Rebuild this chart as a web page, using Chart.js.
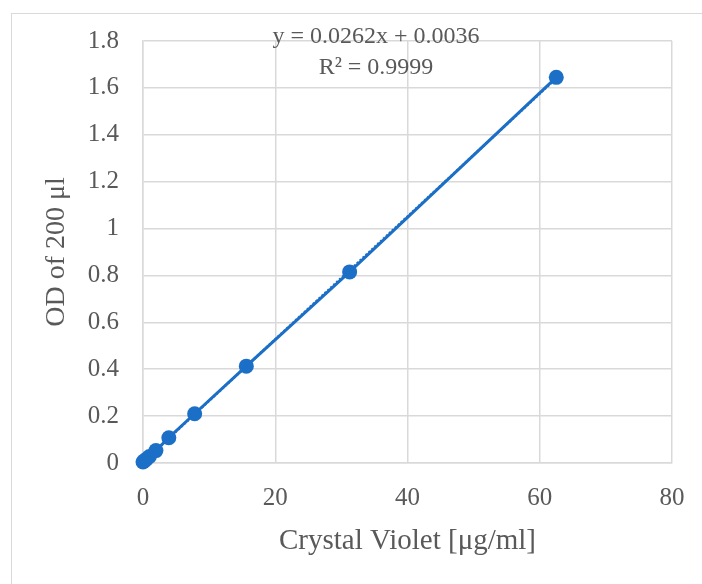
<!DOCTYPE html>
<html>
<head>
<meta charset="utf-8">
<script src="https://cdn.jsdelivr.net/npm/chart.js@4/dist/chart.umd.min.js"></script>
<style>
html,body{margin:0;padding:0;background:#fff;}
#wrap{width:702px;height:584px;position:relative;}
</style>
</head>
<body>
<div id="wrap"><canvas id="c" width="702" height="584"></canvas></div>
<script>
const concentrations = [0, 0.244, 0.488, 0.977, 1.953, 3.906, 7.8125, 15.625, 31.25, 62.5];
const odValues = [0.004, 0.010, 0.016, 0.028, 0.053, 0.108, 0.210, 0.413, 0.815, 1.645];
const trendX = [0, 62.5];
const trendY = [0.0036, 1.641];
const yTickLabels = ['0', '0.2', '0.4', '0.6', '0.8', '1', '1.2', '1.4', '1.6', '1.8'];
const xTickLabels = ['0', '20', '40', '60', '80'];
const equationLines = ['y = 0.0262x + 0.0036', 'R² = 0.9999'];
const xTitle = 'Crystal Violet [μg/ml]';
const yTitle = 'OD of 200 μl';

const BLUE = '#1b6fc6';
const GRID = '#d9d9d9';
const TEXT = '#595959';
const FONT = "'Liberation Serif', 'Times New Roman', serif";

const bgPlugin = {
  id: 'bg',
  beforeDraw(chart) {
    const ctx = chart.ctx;
    ctx.save();
    ctx.fillStyle = '#fff';
    ctx.fillRect(0, 0, chart.width, chart.height);
    ctx.strokeStyle = GRID;
    ctx.lineWidth = 1;
    ctx.strokeRect(11.5, 13.5, chart.width, chart.height);
    ctx.restore();
  },
  afterDraw(chart) {
    const ctx = chart.ctx;
    ctx.save();
    ctx.fillStyle = TEXT;
    ctx.font = "24px " + FONT;
    ctx.textAlign = 'center';
    ctx.textBaseline = 'middle';
    ctx.fillText(equationLines[0], 376, 37);
    ctx.fillText(equationLines[1], 376, 68);
    ctx.restore();
  }
};

new Chart(document.getElementById('c'), {
  type: 'scatter',
  data: {
    datasets: [
      {
        label: 'trend',
        data: trendX.map((x, i) => ({x: x, y: trendY[i]})),
        showLine: true,
        borderColor: BLUE,
        borderWidth: 2.5,
        borderDash: [2, 2],
        pointRadius: 0,
        fill: false,
        clip: false
      },
      {
        label: 'OD',
        data: concentrations.map((x, i) => ({x: x, y: odValues[i]})),
        showLine: true,
        borderColor: BLUE,
        backgroundColor: BLUE,
        borderWidth: 3,
        pointRadius: 7.5,
        pointBackgroundColor: BLUE,
        pointBorderColor: BLUE,
        pointBorderWidth: 0,
        fill: false,
        clip: false
      }
    ]
  },
  options: {
    responsive: false,
    animation: false,
    layout: {padding: {top: 41, right: 30, left: 0, bottom: 0}},
    plugins: {legend: {display: false}, tooltip: {enabled: false}},
    scales: {
      x: {
        type: 'linear',
        min: 0, max: 80,
        afterFit(s) { s.height = 121; s.paddingRight = 0; s.paddingLeft = 0; },
        ticks: {
          stepSize: 20,
          color: TEXT,
          font: {family: FONT, size: 25},
          padding: 20,
          maxRotation: 0,
          callback: (v, i) => xTickLabels[i]
        },
        grid: {color: GRID, lineWidth: 1.5, drawTicks: false},
        border: {color: GRID, width: 1.5},
        title: {
          display: true, text: xTitle, color: TEXT,
          font: {family: FONT, size: 29},
          padding: {top: 0, bottom: 25}
        }
      },
      y: {
        type: 'linear',
        min: 0, max: 1.8,
        afterFit(s) { s.width = 143; s.paddingTop = 0; s.paddingBottom = 0; },
        ticks: {
          stepSize: 0.2,
          color: TEXT,
          font: {family: FONT, size: 25},
          padding: 24,
          callback: (v, i) => yTickLabels[i]
        },
        grid: {color: GRID, lineWidth: 1.5, drawTicks: false},
        border: {color: GRID, width: 1.5},
        title: {
          display: true, text: yTitle, color: TEXT,
          font: {family: FONT, size: 28},
          padding: {top: 40, bottom: 0}
        }
      }
    }
  },
  plugins: [bgPlugin]
});
</script>
</body>
</html>
